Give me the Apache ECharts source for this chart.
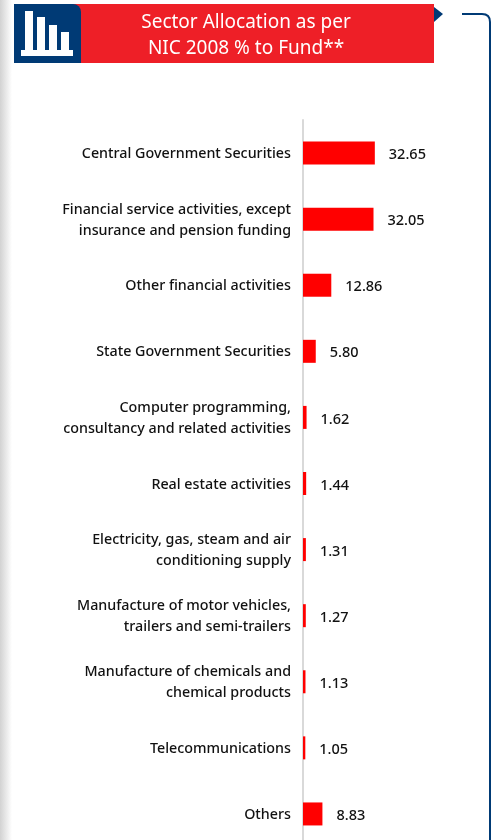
<!DOCTYPE html>
<html>
<head>
<meta charset="utf-8">
<style>html,body{margin:0;padding:0;background:#fff;overflow:hidden;height:840px}#c{width:501px;height:847px}</style>
<script src="https://cdn.jsdelivr.net/npm/echarts@6/dist/echarts.min.js"></script>
</head>
<body>
<div id="c"></div>
<script>
const categories = [
  "Central Government Securities",
  "Financial service activities, except\ninsurance and pension funding",
  "Other financial activities",
  "State Government Securities",
  "Computer programming,\nconsultancy and related activities",
  "Real estate activities",
  "Electricity, gas, steam and air\nconditioning supply",
  "Manufacture of motor vehicles,\ntrailers and semi-trailers",
  "Manufacture of chemicals and\nchemical products",
  "Telecommunications",
  "Others"
];
const values = [32.65, 32.05, 12.86, 5.80, 1.62, 1.44, 1.31, 1.27, 1.13, 1.05, 8.83];
const titleText = "Sector Allocation as per\nNIC 2008 % to Fund**";
const FONT = '"Noto Sans", sans-serif';
const NAVY = '#003a75';
const chart = echarts.init(document.getElementById('c'), null, {renderer:'canvas'});
const iconBars = [[25,11,8,39],[37,17,8,33],[49,25,8,25],[61,32,8,18],[21,50,52,6]];
chart.setOption({
  animation:false,
  backgroundColor:'#fff',
  grid:{left:303,top:120,width:198,height:727,containLabel:false},
  xAxis:{type:'value',min:0,max:90,show:false},
  yAxis:{type:'category',inverse:true,data:categories,
    axisLine:{show:true,lineStyle:{color:'#d9d9d9',width:2}},
    axisTick:{show:false},
    axisLabel:{margin:12,align:'right',
      formatter:v=>v.split('\n').map(l=>'{a|'+l+'}').join('\n'),
      rich:{a:{color:'#111',fontFamily:FONT,fontSize:14.3,fontWeight:500,lineHeight:21,padding:[2,0,0,0],align:'right'}}}},
  series:[{type:'bar',data:values,barWidth:23,itemStyle:{color:'#ff0000'},
    label:{show:true,position:'right',distance:14,offset:[0,2],color:'#111',fontFamily:FONT,fontSize:14.5,fontWeight:500,
      formatter:p=>p.value.toFixed(2)}}],
  graphic:[
    {type:'rect',z:0,shape:{x:0,y:0,width:12,height:847},style:{fill:new echarts.graphic.LinearGradient(0,0,1,0,[{offset:0,color:'#d2d2d2'},{offset:1,color:'#ffffff'}])}},
    {type:'rect',z:1,shape:{x:14,y:4,width:420,height:59},style:{fill:'#ee1f27'}},
    {type:'rect',z:2,shape:{x:14,y:4,width:67,height:59,r:[0,8,0,0]},style:{fill:NAVY}},
    ...iconBars.map(b=>({type:'rect',z:3,shape:{x:b[0],y:b[1],width:b[2],height:b[3]},style:{fill:'#fff'}})),
    {type:'polygon',z:2,shape:{points:[[434,7],[443,14],[434,22]]},style:{fill:NAVY}},
    {type:'text',z:3,x:246,y:36,style:{text:titleText,fill:'#fff',font:'19px '+FONT,lineHeight:26,align:'center',verticalAlign:'middle'}},
    {type:'line',z:2,shape:{x1:462,y1:14,x2:482,y2:14},style:{stroke:NAVY,lineWidth:2}},
    {type:'bezierCurve',z:2,shape:{x1:482,y1:14,cpx1:490,cpy1:14,x2:490,y2:22},style:{fill:'none',stroke:NAVY,lineWidth:2}},
    {type:'line',z:2,shape:{x1:490,y1:22,x2:490,y2:847},style:{stroke:NAVY,lineWidth:2}}
  ]
});
</script>
</body>
</html>
